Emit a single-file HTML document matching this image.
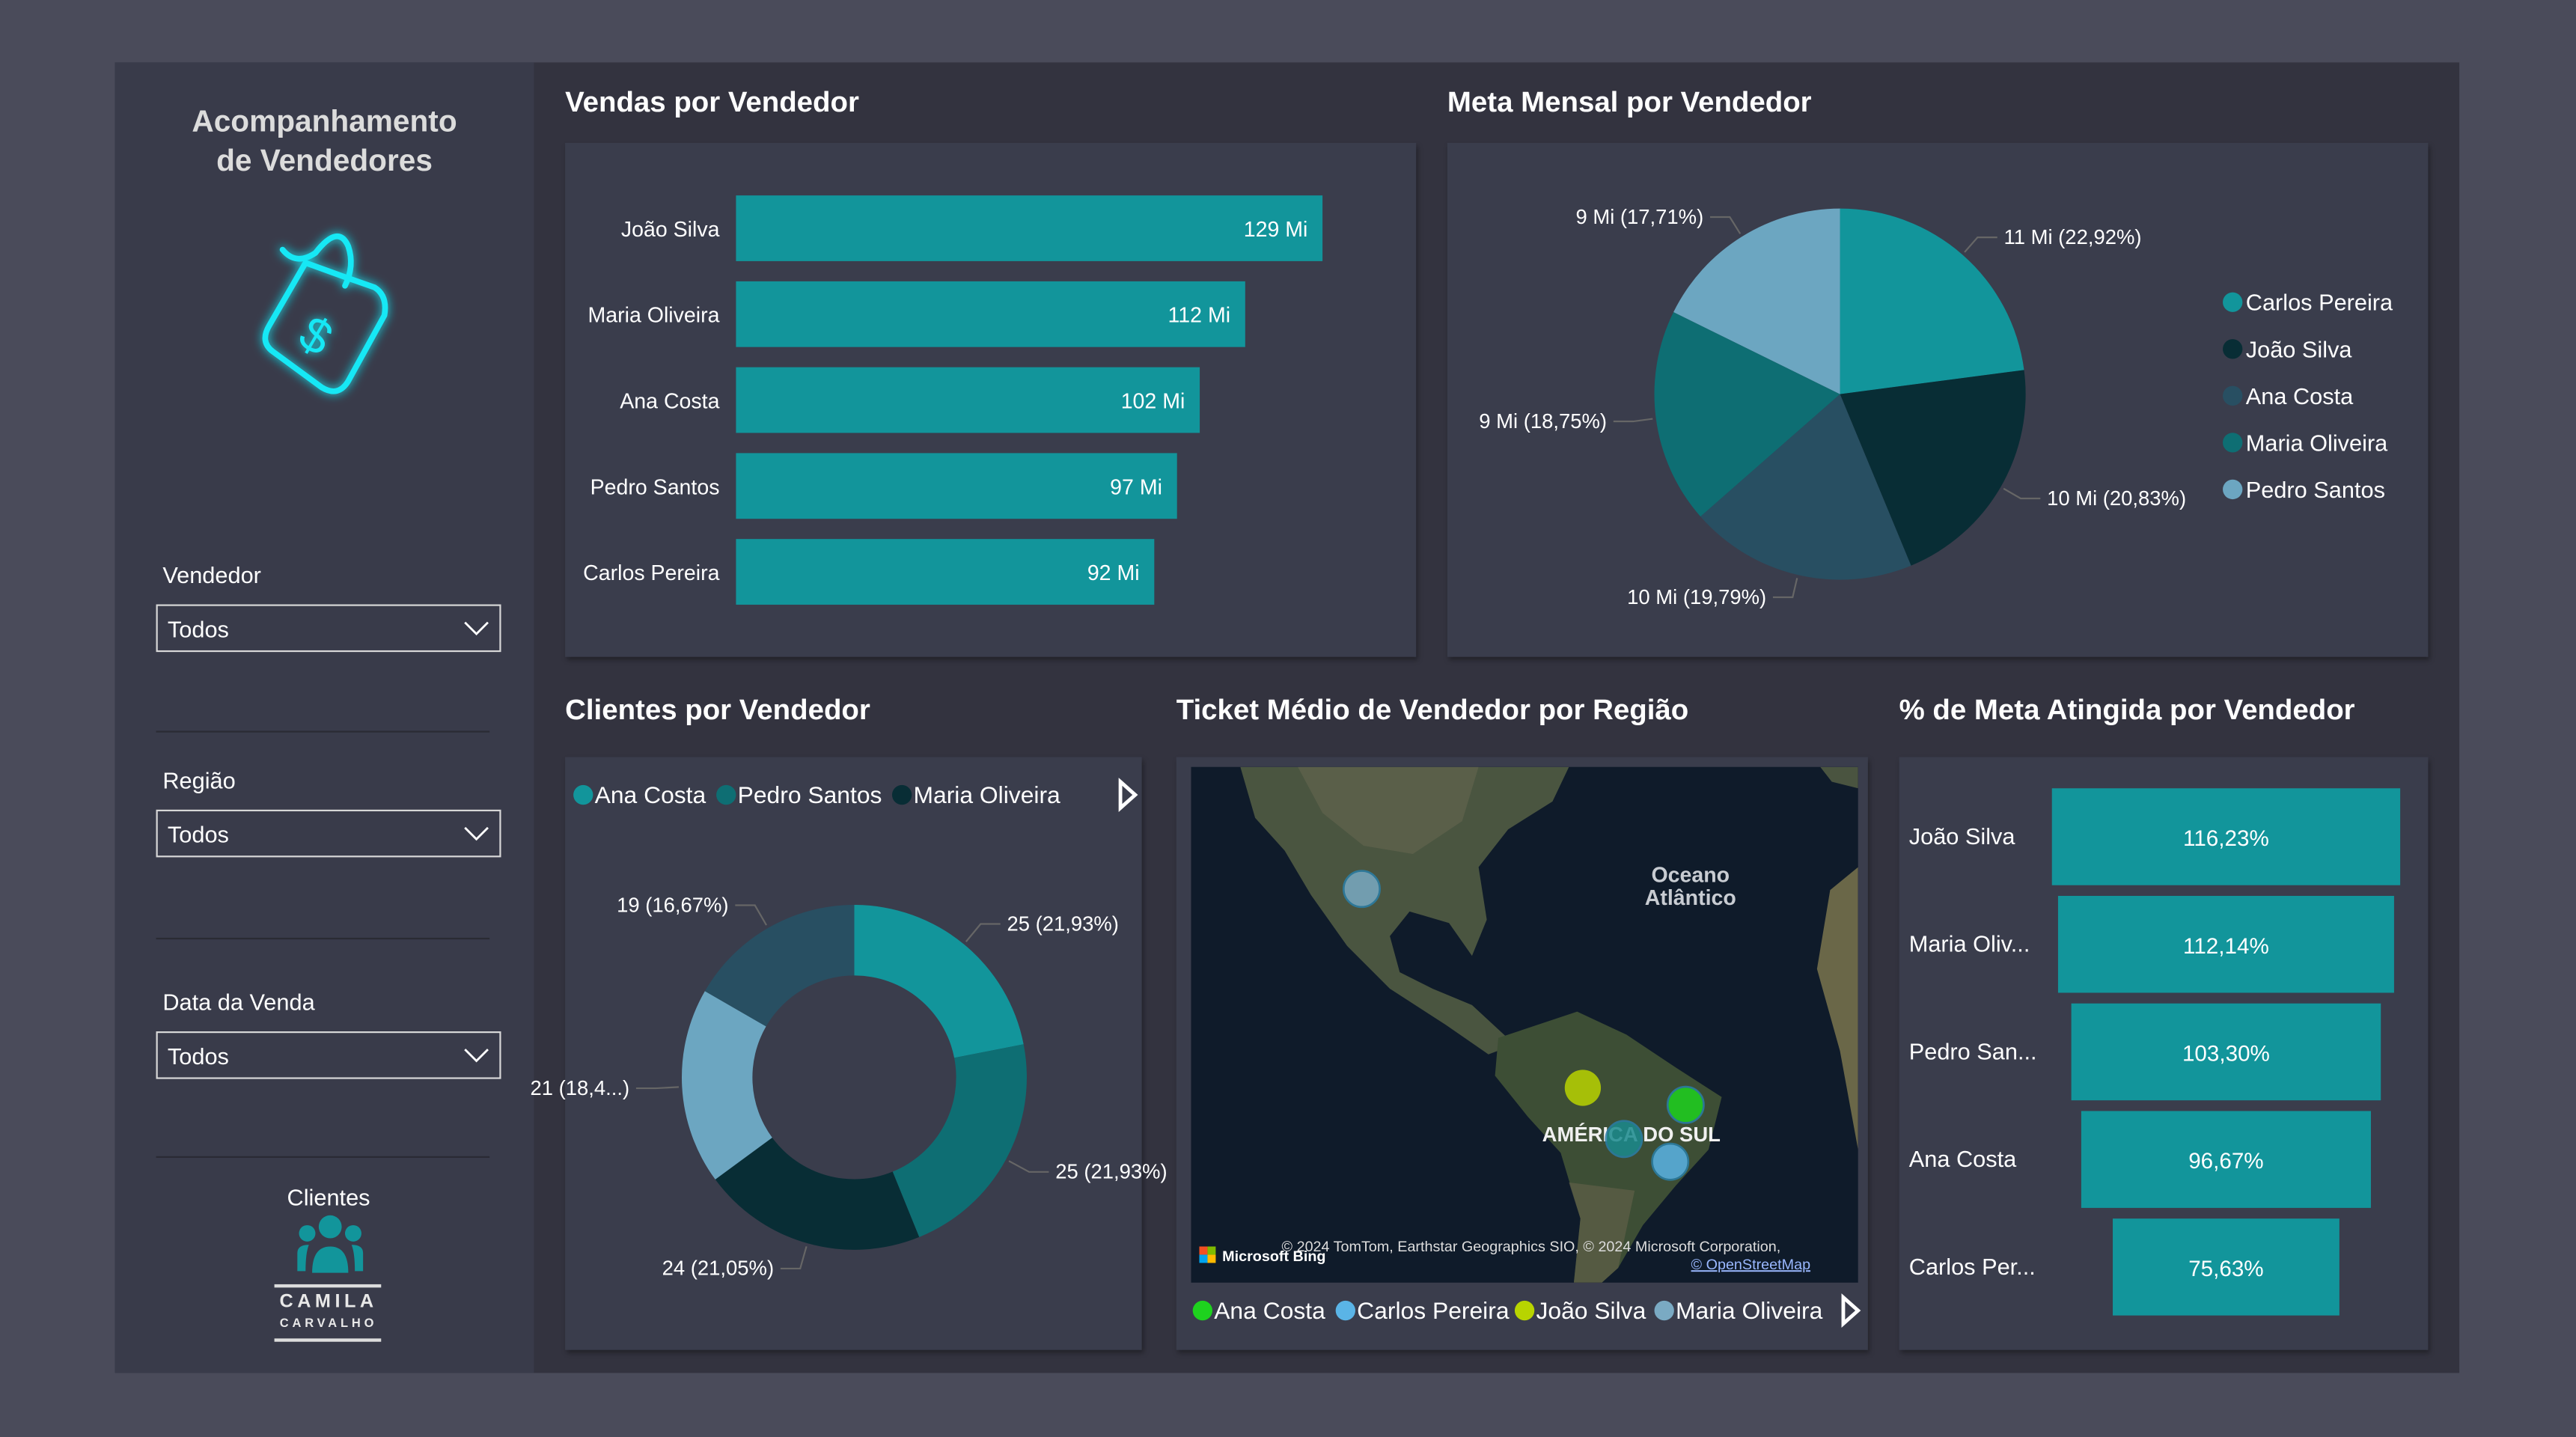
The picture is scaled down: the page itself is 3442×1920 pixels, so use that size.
<!DOCTYPE html>
<html><head><meta charset="utf-8">
<style>
html,body{margin:0;padding:0;background:#4a4b5a;overflow:hidden}
body{width:3442px;height:1920px}
#root{position:absolute;left:0;top:0;width:1568px;height:875px;transform:scale(2.19515,2.19429);transform-origin:0 0;font-family:"Liberation Sans",sans-serif;color:#fff}
.abs{position:absolute}
.card{position:absolute;background:#3a3d4c;box-shadow:1px 2px 3px rgba(0,0,0,.35)}
.title{position:absolute;font-weight:bold;font-size:17.5px;color:#fff;white-space:nowrap}
.lbl{position:absolute;font-size:14px;color:#fff}
.dd{position:absolute;left:95px;width:208px;height:27px;border:1.5px solid #d8d8d8;font-size:14px}
.dd span{position:absolute;left:6px;top:6px}
.sep{position:absolute;left:95px;width:203px;height:1px;background:#2a2b34}
svg text{font-family:"Liberation Sans",sans-serif}
</style></head><body>
<div id="root">
<div class="abs" style="left:70px;top:38px;width:1427px;height:798px;background:#33333f"></div>
<div class="abs" style="left:70px;top:38px;width:255px;height:798px;background:#393b4a"></div>

<div class="abs" style="left:70px;top:62px;width:255px;text-align:center;font-weight:bold;font-size:18.5px;line-height:24px;color:#dcdcdc">Acompanhamento<br>de Vendedores</div>

<svg class="abs" style="left:140px;top:130px" width="120" height="125" viewBox="0 0 120 125">
<defs><filter id="glow" x="-50%" y="-50%" width="200%" height="200%"><feGaussianBlur stdDeviation="3" result="b"/><feMerge><feMergeNode in="b"/><feMergeNode in="SourceGraphic"/></feMerge></filter></defs>
<g filter="url(#glow)" fill="none" stroke="#19e8f5" stroke-width="3.5" stroke-linecap="round" stroke-linejoin="round">
<path d="M68 38 L88 45 Q96 50 94 62 L72 102 Q66 112 56 106 L26 84 Q18 78 24 68 L46 30 Z"/>
<path d="M32 22 Q40 32 52 24 Q66 6 72 20 Q76 32 70 44"/>
<text x="44" y="86" font-size="30" fill="#19e8f5" stroke="none" transform="rotate(30 55 75)" font-family="Liberation Serif,serif">$</text>
</g></svg>

<div class="lbl" style="left:99px;top:342px">Vendedor</div>
<div class="dd" style="top:368px"><span>Todos</span><svg class="abs" style="right:6px;top:9px" width="16" height="10"><path d="M1 1 L8 8 L15 1" fill="none" stroke="#fff" stroke-width="1.3"/></svg></div>
<div class="sep" style="top:445px"></div>
<div class="lbl" style="left:99px;top:467px">Região</div>
<div class="dd" style="top:493px"><span>Todos</span><svg class="abs" style="right:6px;top:9px" width="16" height="10"><path d="M1 1 L8 8 L15 1" fill="none" stroke="#fff" stroke-width="1.3"/></svg></div>
<div class="sep" style="top:571px"></div>
<div class="lbl" style="left:99px;top:602px">Data da Venda</div>
<div class="dd" style="top:628px"><span>Todos</span><svg class="abs" style="right:6px;top:9px" width="16" height="10"><path d="M1 1 L8 8 L15 1" fill="none" stroke="#fff" stroke-width="1.3"/></svg></div>
<div class="sep" style="top:704px"></div>

<div class="lbl" style="left:150px;width:100px;text-align:center;top:721px">Clientes</div>
<svg class="abs" style="left:178px;top:739px" width="46" height="38">
<g fill="#12959b"><circle cx="23" cy="8" r="7"/><circle cx="9" cy="12" r="5"/><circle cx="37" cy="12" r="5"/>
<path d="M12 36 Q12 20 23 20 Q34 20 34 36 Z"/><path d="M3 35 L3 24 Q3 19 10 19 Q8 24 8 35 Z"/><path d="M43 35 L43 24 Q43 19 36 19 Q38 24 38 35 Z"/></g></svg>
<div class="abs" style="left:167px;top:782px;width:65px;height:2px;background:#ddd"></div>
<div class="abs" style="left:160px;top:787px;width:80px;text-align:center;font-size:11.5px;letter-spacing:2.5px;font-weight:bold;color:#e8e8e8">CAMILA</div>
<div class="abs" style="left:160px;top:801px;width:80px;text-align:center;font-size:7.5px;letter-spacing:2.2px;font-weight:bold;color:#e8e8e8">CARVALHO</div>
<div class="abs" style="left:167px;top:815px;width:65px;height:2px;background:#ddd"></div>

<div class="title" style="left:344px;top:52px">Vendas por Vendedor</div>
<div class="title" style="left:881px;top:52px">Meta Mensal por Vendedor</div>
<div class="title" style="left:344px;top:422px">Clientes por Vendedor</div>
<div class="title" style="left:716px;top:422px">Ticket Médio de Vendedor por Região</div>
<div class="title" style="left:1156px;top:422px">% de Meta Atingida por Vendedor</div>

<div class="card" style="left:344px;top:87px;width:518px;height:313px"></div>
<div class="card" style="left:881px;top:87px;width:597px;height:313px"></div>
<div class="card" style="left:344px;top:461px;width:351px;height:361px"></div>
<div class="card" style="left:716px;top:461px;width:421px;height:361px"></div>
<div class="card" style="left:1156px;top:461px;width:322px;height:361px"></div>

<svg id="chart" class="abs" style="left:0;top:0" width="1568" height="875">
<defs><clipPath id="mc"><rect x="725" y="467" width="406" height="314"/></clipPath></defs>
</svg>
</div>

<script>
const salesNames = ["João Silva","Maria Oliveira","Ana Costa","Pedro Santos","Carlos Pereira"];
const salesValues = [129,112,102,97,92];
const salesLabels = ["129 Mi","112 Mi","102 Mi","97 Mi","92 Mi"];
const metaNames = ["Carlos Pereira","João Silva","Ana Costa","Maria Oliveira","Pedro Santos"];
const metaPct = [22.92,20.83,19.79,18.75,17.71];
const metaLabels = ["11 Mi (22,92%)","10 Mi (20,83%)","10 Mi (19,79%)","9 Mi (18,75%)","9 Mi (17,71%)"];
const cliNames = ["Ana Costa","Pedro Santos","Maria Oliveira","Carlos Pereira","João Silva"];
const cliValues = [25,25,24,21,19];
const cliLabels = ["25 (21,93%)","25 (21,93%)","24 (21,05%)","21 (18,4...)","19 (16,67%)"];
const pctNames = ["João Silva","Maria Oliv...","Pedro San...","Ana Costa","Carlos Per..."];
const pctValues = [116.23,112.14,103.30,96.67,75.63];
const pctLabels = ["116,23%","112,14%","103,30%","96,67%","75,63%"];
const mapNames = ["Maria Oliveira","João Silva","Ana Costa","Pedro Santos","Carlos Pereira"];
const mapLon = [-103,-60,-40,-52,-43];
const mapLat = [27,-8,-11,-17,-21];

const colorOf = {"Carlos Pereira":"#12959b","João Silva":"#082d35","Ana Costa":"#284f62","Maria Oliveira":"#0e6e73","Pedro Santos":"#6ca6c1"};
const cliColor = {"Ana Costa":"#12959b","Pedro Santos":"#0e6e73","Maria Oliveira":"#082d35","Carlos Pereira":"#6ca6c1","João Silva":"#284f62"};
const mapColor = {"Maria Oliveira":"#7aaac3","João Silva":"#b8d400","Ana Costa":"#1ed21e","Pedro Santos":"#1a8a8e","Carlos Pereira":"#5ab4e6"};

const NS="http://www.w3.org/2000/svg";
const svg=document.getElementById('chart');
function el(tag,attrs,parent){const e=document.createElementNS(NS,tag);for(const k in attrs)e.setAttribute(k,attrs[k]);(parent||svg).appendChild(e);return e;}
function txt(x,y,s,attrs,parent){const t=el('text',Object.assign({x:x,y:y,fill:'#fff','font-size':13},attrs||{}),parent);t.textContent=s;return t;}

const bx0=448, bxScale=357/129, by0=119, byStep=52.3, bh=40;
const xS=v=>bx0+v*bxScale;
salesNames.forEach((n,i)=>{
  const y=by0+i*byStep;
  const r=el('rect',{x:bx0,y:y,width:xS(salesValues[i])-bx0,height:bh,fill:'#12959b'});
  
  
  const l=txt(438,y+25,n,{'text-anchor':'end','font-size':13});
  
  
  const v=txt(xS(salesValues[i])-9,y+25,salesLabels[i],{'text-anchor':'end','font-size':13});
  
  
});

function arcPath(cx,cy,r0,r1,a0,a1){
  const p=(r,a)=>[cx+r*Math.sin(a),cy-r*Math.cos(a)];
  const large=(a1-a0)>Math.PI?1:0;
  const [x0,y0]=p(r1,a0),[x1,y1]=p(r1,a1);
  if(r0<=0) return `M${cx},${cy}L${x0},${y0}A${r1},${r1} 0 ${large} 1 ${x1},${y1}Z`;
  const [x2,y2]=p(r0,a1),[x3,y3]=p(r0,a0);
  return `M${x0},${y0}A${r1},${r1} 0 ${large} 1 ${x1},${y1}L${x2},${y2}A${r0},${r0} 0 ${large} 0 ${x3},${y3}Z`;
}
function drawRing(cx,cy,r0,r1,names,vals,labels,colors,prefix,lr){
  const tot=vals.reduce((a,b)=>a+b,0);let a=0;
  names.forEach((n,i)=>{
    const a1=a+vals[i]/tot*2*Math.PI;
    const s=el('path',{d:arcPath(cx,cy,r0,r1,a,a1),fill:colors[n]});
    
    
    const m=(a+a1)/2, sx=Math.sin(m), cy2=-Math.cos(m);
    const p1=[cx+(r1+2)*sx,cy+(r1+2)*cy2], p2=[cx+(r1+lr)*sx,cy+(r1+lr)*cy2];
    const right=sx>=0, p3=[p2[0]+(right?12:-12),p2[1]];
    const ln=el('polyline',{points:`${p1} ${p2} ${p3}`,fill:'none',stroke:'#666','stroke-width':1});
    
    
    const t=txt(p3[0]+(right?4:-4),p3[1]+4,labels[i],{'text-anchor':right?'start':'end','font-size':12.5});
    
    
    a=a1;
  });
}
drawRing(1120,240,0,113,metaNames,metaPct,metaLabels,colorOf,'meta-pie',14);
metaNames.forEach((n,i)=>{
  const y=184+i*28.5;
  const c=el('circle',{cx:1359,cy:y,r:6,fill:colorOf[n]});
  
  
  const t=txt(1367,y+5,n,{'font-size':14});
  
  
});

drawRing(520,656,62,105,cliNames,cliValues,cliLabels,cliColor,'clientes-donut',16);
const cliLegX=[349,436,543];
["Ana Costa","Pedro Santos","Maria Oliveira"].forEach((n,i)=>{
  const c=el('circle',{cx:cliLegX[i]+6,cy:484,r:6,fill:cliColor[n]});
  
  
  const t=txt(cliLegX[i]+13,489,n,{'font-size':14.5});
  
  
});
const ar=el('path',{d:'M682 476 L691 484 L682 492 Z',fill:'none',stroke:'#fff','stroke-width':2.2});



const pcx=1355, pScale=212/116.23, py0=480, pStep=65.5, ph=59;
pctNames.forEach((n,i)=>{
  const w=pctValues[i]*pScale, y=py0+i*pStep;
  const r=el('rect',{x:pcx-w/2,y:y,width:w,height:ph,fill:'#12959b'});
  
  
  const l=txt(1162,y+34,n,{'font-size':14});
  
  
  const v=txt(pcx,y+35,pctLabels[i],{'text-anchor':'middle','font-size':13.5});
  
  
});

// Map
const mg=el('g',{});


el('rect',{x:725,y:467,width:406,height:314,fill:'#0f1b2a'},mg);
const land=el('g',{'clip-path':'url(#mc)'},mg);
el('polygon',{points:'755,467 955,467 945,488 918,505 900,528 905,560 896,582 882,562 858,555 846,570 852,592 872,602 896,612 922,636 906,642 880,624 846,602 820,576 798,545 782,518 764,498',fill:'#4a5540'},land);
el('polygon',{points:'790,467 900,467 890,500 860,520 830,515 805,495',fill:'#666650',opacity:.6},land);
el('polygon',{points:'912,632 960,616 990,630 1020,650 1048,668 1040,700 1020,722 1000,746 985,772 975,781 958,781 962,742 950,702 930,680 910,655',fill:'#3d4e35'},land);
el('polygon',{points:'955,720 995,725 985,772 975,781 958,781 962,742',fill:'#5f6049',opacity:.7},land);
el('polygon',{points:'1114,542 1131,528 1131,700 1120,640 1106,590',fill:'#6a6748'},land);
el('polygon',{points:'1108,467 1131,467 1131,480 1115,476',fill:'#4a5440'},land);
txt(1029,537,'Oceano',{'text-anchor':'middle','font-size':13,'font-weight':'bold',fill:'#c8ccd2'},mg);
txt(1029,551,'Atlântico',{'text-anchor':'middle','font-size':13,'font-weight':'bold',fill:'#c8ccd2'},mg);
txt(993,695,'AMÉRICA DO SUL',{'text-anchor':'middle','font-size':12.5,'font-weight':'bold',fill:'#f0f0f0'},mg);
const lonX=lon=>760+(lon+125)*3.13, latY=lat=>479+(45-lat)*3.46;
mapNames.forEach((n,i)=>{
  const c=el('circle',{cx:lonX(mapLon[i]),cy:latY(mapLat[i]),r:11,fill:mapColor[n],opacity:.85,stroke:n==='João Silva'?'none':'#2a7fa8','stroke-width':1.2});
  
  
});
txt(932,762,'© 2024 TomTom, Earthstar Geographics SIO, © 2024 Microsoft Corporation,',{'text-anchor':'middle','font-size':9,fill:'#ddd'},mg);
txt(1102,773,'© OpenStreetMap',{'text-anchor':'end','font-size':9,fill:'#9ab8ff','text-decoration':'underline'},mg);
el('rect',{x:730,y:759,width:5,height:5,fill:'#f25022'},mg);el('rect',{x:735,y:759,width:5,height:5,fill:'#7fba00'},mg);
el('rect',{x:730,y:764,width:5,height:5,fill:'#00a4ef'},mg);el('rect',{x:735,y:764,width:5,height:5,fill:'#ffb900'},mg);
txt(744,768,'Microsoft Bing',{'font-size':9,'font-weight':'bold',fill:'#fff'},mg);
const mapLegNames=["Ana Costa","Carlos Pereira","João Silva","Maria Oliveira"];
const mapLegX=[726,813,922,1007];
mapLegNames.forEach((n,i)=>{
  const c=el('circle',{cx:mapLegX[i]+6,cy:798,r:6,fill:mapColor[n]});
  
  
  const t=txt(mapLegX[i]+13,803,n,{'font-size':14.5});
  
  
});
const ar2=el('path',{d:'M1122 790 L1131 798 L1122 806 Z',fill:'none',stroke:'#fff','stroke-width':2.2});


</script>
</body></html>
